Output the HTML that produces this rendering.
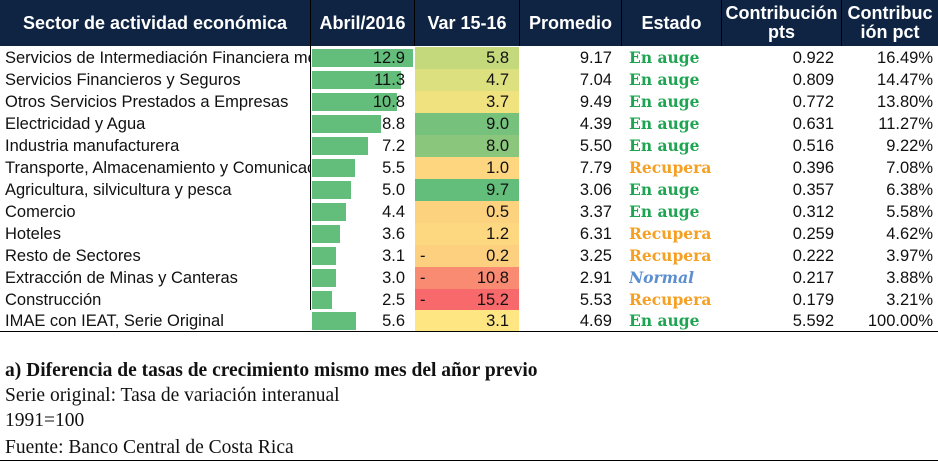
<!DOCTYPE html>
<html><head><meta charset="utf-8"><style>
body{margin:0;width:938px;height:463px;background:#fff;position:relative;overflow:hidden;font-family:"Liberation Sans",Arial,sans-serif;font-size:16.5px;color:#111}
.h{position:absolute;top:0;left:0;width:938px;height:46px;background:#0f2443}
.hc{position:absolute;top:0;height:46px;color:#fff;font-weight:bold;font-size:18px;display:flex;align-items:center;justify-content:center;text-align:center;line-height:19px;border-right:1px solid #000}
.r{position:absolute;left:0;width:938px;height:22px}
.r div{position:absolute;top:0;height:22px;line-height:22px;white-space:nowrap;overflow:hidden}
.s{left:5px;width:305px}
.bar{left:312px;top:2px!important;height:18px!important;background:#63be7b}
.a{left:312px;width:93px;text-align:right}
.v{left:415px;width:104px}
.v span{position:absolute;right:10px}
.v i{font-style:normal;position:absolute;left:5px}
.p{left:520px;width:92px;text-align:right}
.e{left:629px;font-family:"DejaVu Serif",serif;font-weight:bold;font-size:15.5px;line-height:21px!important}
.g{color:#1fa552}.o{color:#f5a023}.n{color:#5b8fd0;font-style:italic}
.t{left:722px;width:112px;text-align:right}
.c{left:842px;width:91px;text-align:right}
.f{position:absolute;left:5px;font-family:"Liberation Serif",serif;font-size:19.5px}
</style></head><body>
<div class="h"></div>
<div class="hc" style="left:0;width:310px">Sector de actividad económica</div>
<div class="hc" style="left:311px;width:103px">Abril/2016</div>
<div class="hc" style="left:415px;width:104px">Var 15-16</div>
<div class="hc" style="left:520px;width:101px">Promedio</div>
<div class="hc" style="left:622px;width:99px">Estado</div>
<div class="hc" style="left:722px;width:119px">Contribución pts</div>
<div class="hc" style="left:842px;width:96px;border:none">Contribuc ión pct</div>
<div style="position:absolute;left:310px;top:46px;width:1px;height:264px;background:#000"></div>

<div class="r" style="top:47px"><div class="s">Servicios de Intermediación Financiera medidos indirectamente</div><div class="bar" style="width:101px"></div><div class="a">12.9</div><div class="v" style="background:#c3d97b"><span>5.8</span></div><div class="p">9.17</div><div class="e g">En auge</div><div class="t">0.922</div><div class="c">16.49%</div></div>
<div class="r" style="top:69px"><div class="s">Servicios Financieros y Seguros</div><div class="bar" style="width:89px"></div><div class="a">11.3</div><div class="v" style="background:#dde07f"><span>4.7</span></div><div class="p">7.04</div><div class="e g">En auge</div><div class="t">0.809</div><div class="c">14.47%</div></div>
<div class="r" style="top:91px"><div class="s">Otros Servicios Prestados a Empresas</div><div class="bar" style="width:85px"></div><div class="a">10.8</div><div class="v" style="background:#f1e280"><span>3.7</span></div><div class="p">9.49</div><div class="e g">En auge</div><div class="t">0.772</div><div class="c">13.80%</div></div>
<div class="r" style="top:113px"><div class="s">Electricidad y Agua</div><div class="bar" style="width:69px"></div><div class="a">8.8</div><div class="v" style="background:#76c17c"><span>9.0</span></div><div class="p">4.39</div><div class="e g">En auge</div><div class="t">0.631</div><div class="c">11.27%</div></div>
<div class="r" style="top:135px"><div class="s">Industria manufacturera</div><div class="bar" style="width:56px"></div><div class="a">7.2</div><div class="v" style="background:#8ac67c"><span>8.0</span></div><div class="p">5.50</div><div class="e g">En auge</div><div class="t">0.516</div><div class="c">9.22%</div></div>
<div class="r" style="top:157px"><div class="s">Transporte, Almacenamiento y Comunicaciones</div><div class="bar" style="width:43px"></div><div class="a">5.5</div><div class="v" style="background:#fed680"><span>1.0</span></div><div class="p">7.79</div><div class="e o">Recupera</div><div class="t">0.396</div><div class="c">7.08%</div></div>
<div class="r" style="top:179px"><div class="s">Agricultura, silvicultura y pesca</div><div class="bar" style="width:39px"></div><div class="a">5.0</div><div class="v" style="background:#63be7b"><span>9.7</span></div><div class="p">3.06</div><div class="e g">En auge</div><div class="t">0.357</div><div class="c">6.38%</div></div>
<div class="r" style="top:201px"><div class="s">Comercio</div><div class="bar" style="width:34px"></div><div class="a">4.4</div><div class="v" style="background:#fdd27f"><span>0.5</span></div><div class="p">3.37</div><div class="e g">En auge</div><div class="t">0.312</div><div class="c">5.58%</div></div>
<div class="r" style="top:223px"><div class="s">Hoteles</div><div class="bar" style="width:28px"></div><div class="a">3.6</div><div class="v" style="background:#fed880"><span>1.2</span></div><div class="p">6.31</div><div class="e o">Recupera</div><div class="t">0.259</div><div class="c">4.62%</div></div>
<div class="r" style="top:245px"><div class="s">Resto de Sectores</div><div class="bar" style="width:24px"></div><div class="a">3.1</div><div class="v" style="background:#fdd07f"><i>-</i><span>0.2</span></div><div class="p">3.25</div><div class="e o">Recupera</div><div class="t">0.222</div><div class="c">3.97%</div></div>
<div class="r" style="top:267px"><div class="s">Extracción de Minas y Canteras</div><div class="bar" style="width:24px"></div><div class="a">3.0</div><div class="v" style="background:#f98b72"><i>-</i><span>10.8</span></div><div class="p">2.91</div><div class="e n">Normal</div><div class="t">0.217</div><div class="c">3.88%</div></div>
<div class="r" style="top:289px"><div class="s">Construcción</div><div class="bar" style="width:20px"></div><div class="a">2.5</div><div class="v" style="background:#f8696b"><i>-</i><span>15.2</span></div><div class="p">5.53</div><div class="e o">Recupera</div><div class="t">0.179</div><div class="c">3.21%</div></div>
<div class="r" style="top:310px"><div class="s">IMAE con IEAT, Serie Original</div><div class="bar" style="width:44px"></div><div class="a">5.6</div><div class="v" style="background:#fee783"><span>3.1</span></div><div class="p">4.69</div><div class="e g">En auge</div><div class="t">5.592</div><div class="c">100.00%</div></div>
<div style="position:absolute;left:0;top:331px;width:938px;height:1px;background:#000"></div>

<div class="f" style="top:360px;font-weight:bold">a) Diferencia de tasas de crecimiento mismo mes del añor previo</div>
<div class="f" style="top:385px">Serie original: Tasa de variación interanual</div>
<div class="f" style="top:410px">1991=100</div>
<div class="f" style="top:437px">Fuente: Banco Central de Costa Rica</div>
<div style="position:absolute;left:0;top:460px;width:938px;height:1px;background:#000"></div>
</body></html>
